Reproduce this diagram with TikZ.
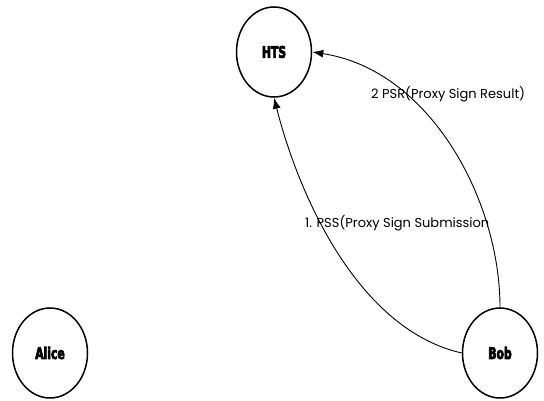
\documentclass[tikz,border=0pt]{standalone}
\usepackage{fontspec}
\usetikzlibrary{arrows.meta,shapes.geometric}
\newfontfamily\partyfont{DejaVu Sans Condensed}[FakeStretch=0.75, FakeBold=4]
\newfontfamily\msgfont{Poppins}
\tikzset{
  party/.style={draw, line width=1.5pt, shape=ellipse, minimum width=75pt,
    minimum height=90pt, inner sep=0pt,
    font=\partyfont\bfseries\fontsize{16}{16}\selectfont},
  msg/.style={line width=0.9pt, -{Latex[length=11pt,width=8pt]}},
  msglabel/.style={font=\msgfont\fontsize{13}{14}\selectfont, inner sep=0pt, anchor=west}
}
\begin{document}
\begin{tikzpicture}[x=1pt,y=-1pt]
  \useasboundingbox (0,0) rectangle (544,401);
  % principals
  \node[party] (hts)   at (274,52)  {HTS};
  \node[party] (alice) at (50,353)  {Alice};
  \node[party] (bob)   at (500,353) {Bob};
  % protocol messages
  \draw[msg] (bob.west) .. controls (360,330) and (300,200) .. (hts.south);
  \draw[msg] (bob.north) .. controls (500,200) and (430,70) .. (hts.east);
  \node[msglabel] (l2) at (371,94)  {2 PSR(Proxy Sign Result)};
  \node[msglabel] (l1) at (305,223) {1. PSS(Proxy Sign Submission};
\end{tikzpicture}
\end{document}
